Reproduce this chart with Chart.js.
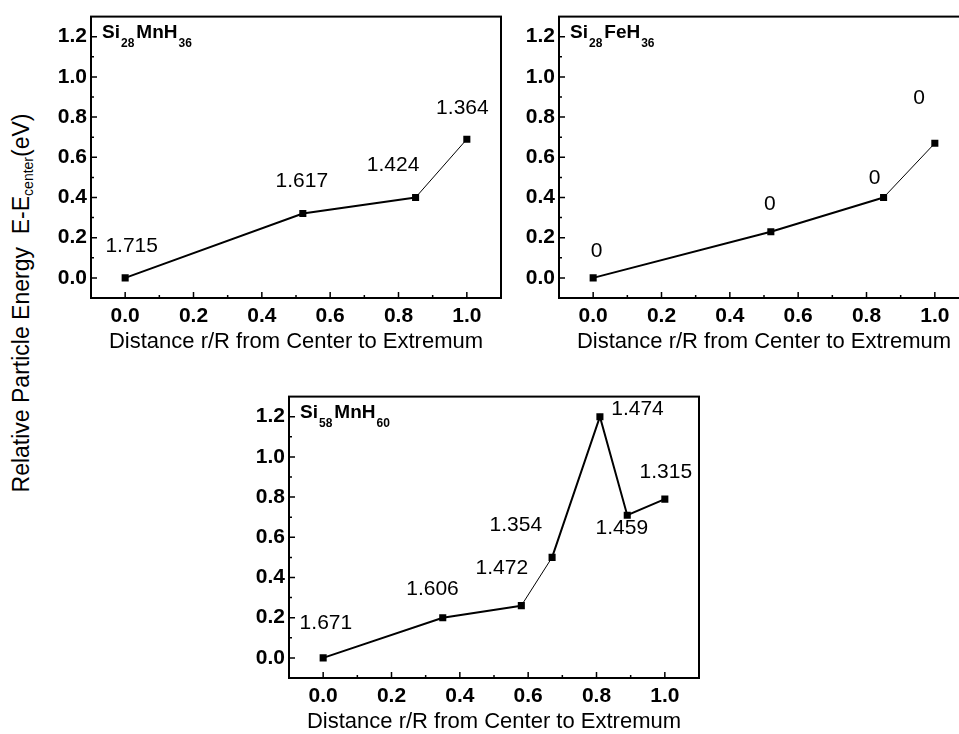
<!DOCTYPE html>
<html>
<head>
<meta charset="utf-8">
<script src="https://cdn.jsdelivr.net/npm/chart.js@4"></script>
<style>
  html, body { margin: 0; padding: 0; background: #fff; }
  body { width: 959px; height: 734px; position: relative; overflow: hidden; }
  canvas { position: absolute; }
  #ytitle {
    position: absolute; left: 22px; top: 303px;
    transform: translate(-50%, -50%) rotate(-90deg);
    white-space: nowrap; font: 23px "Liberation Sans", Arial, sans-serif; color: #000;
  }
  #ytitle sub { font-size: 14px; vertical-align: -4px; }
</style>
</head>
<body>
<div id="ytitle">Relative Particle Energy&nbsp;&nbsp;E-E<sub>center</sub>(eV)</div>
<canvas id="c1" width="470" height="355" style="left:40px;top:0px"></canvas>
<canvas id="c2" width="470" height="355" style="left:508px;top:0px"></canvas>
<canvas id="c3" width="470" height="355" style="left:238px;top:380px"></canvas>
<script>
// tick values shared by all three panels
var xTicks = [0, 0.2, 0.4, 0.6, 0.8, 1.0];
var yTicks = [0, 0.2, 0.4, 0.6, 0.8, 1.0, 1.2];

// Si28MnH36
var mn28X = [0, 0.52, 0.85, 1.0];
var mn28Y = [0, 0.32, 0.40, 0.69];
var mn28Labels = ["1.715", "1.617", "1.424", "1.364"];
var mn28LabelX = [0.019, 0.517, 0.784, 0.987];
var mn28LabelY = [0.158, 0.483, 0.561, 0.842];

// Si28FeH36
var fe28X = [0, 0.52, 0.85, 1.0];
var fe28Y = [0, 0.23, 0.40, 0.67];
var fe28Labels = ["0", "0", "0", "0"];
var fe28LabelX = [0.010, 0.517, 0.824, 0.954];
var fe28LabelY = [0.134, 0.368, 0.494, 0.896];

// Si58MnH60
var mn58X = [0, 0.35, 0.58, 0.67, 0.81, 0.89, 1.0];
var mn58Y = [0, 0.20, 0.26, 0.50, 1.20, 0.71, 0.79];
var mn58Labels = ["1.671", "1.606", "1.472", "1.354", "1.474", "1.459", "1.315"];
var mn58LabelX = [0.008, 0.320, 0.523, 0.564, 0.920, 0.874, 1.003];
var mn58LabelY = [0.174, 0.344, 0.444, 0.659, 1.235, 0.643, 0.922];

var FONT = '"Liberation Sans", Arial, sans-serif';

function midpoints(arr) {
  var out = [];
  for (var i = 0; i < arr.length - 1; i++) out.push((arr[i] + arr[i + 1]) / 2);
  return out;
}

// frame, inward ticks, formula and point labels
var decor = {
  id: "decor",
  afterDatasetsDraw: function (chart, args, opts) {
    var ctx = chart.ctx, a = chart.chartArea;
    var xs = chart.scales.x, ys = chart.scales.y;
    ctx.save();
    ctx.strokeStyle = "#000";
    ctx.lineWidth = 1.5;
    ctx.beginPath();
    yTicks.forEach(function (v) {
      var p = ys.getPixelForValue(v);
      ctx.moveTo(a.left, p); ctx.lineTo(a.left + 6, p);
    });
    midpoints(yTicks).forEach(function (v) {
      var p = ys.getPixelForValue(v);
      ctx.moveTo(a.left, p); ctx.lineTo(a.left + 3, p);
    });
    xTicks.forEach(function (v) {
      var p = xs.getPixelForValue(v);
      ctx.moveTo(p, a.bottom); ctx.lineTo(p, a.bottom - 6);
    });
    midpoints(xTicks).forEach(function (v) {
      var p = xs.getPixelForValue(v);
      ctx.moveTo(p, a.bottom); ctx.lineTo(p, a.bottom - 3);
    });
    ctx.stroke();
    ctx.lineWidth = 2;
    ctx.strokeRect(a.left, a.top, a.right - a.left, a.bottom - a.top);

    // formula with subscripts
    var x = a.left + 11;
    ctx.fillStyle = "#000";
    ctx.textBaseline = "alphabetic";
    opts.formula.forEach(function (part, i) {
      var sub = i % 2 === 1;
      ctx.font = "bold " + (sub ? 12 : 19) + "px " + FONT;
      ctx.fillText(part, x, a.top + (sub ? 30 : 21));
      x += ctx.measureText(part).width + (sub ? 2 : 1);
    });

    // value labels
    ctx.font = "21px " + FONT;
    ctx.textAlign = "center";
    ctx.textBaseline = "middle";
    opts.labels.forEach(function (t, i) {
      ctx.fillText(t, xs.getPixelForValue(opts.labelX[i]), ys.getPixelForValue(opts.labelY[i]));
    });
    ctx.restore();
  }
};

function makeChart(id, xs, ys, formula, labels, labelX, labelY) {
  var pts = xs.map(function (x, i) { return { x: x, y: ys[i] }; });
  return new Chart(document.getElementById(id).getContext("2d"), {
    type: "line",
    data: {
      datasets: [{
        data: pts,
        borderColor: "#000",
        backgroundColor: "#000",
        borderWidth: 2,
        pointStyle: "rect",
        pointRadius: 5,
        pointBorderWidth: 0,
        segment: {
          borderWidth: function (c) { return c.p1DataIndex === 3 ? 1 : 2; }
        }
      }]
    },
    options: {
      responsive: false,
      animation: false,
      layout: { padding: { top: 9, right: 9, left: 0, bottom: 0 } },
      plugins: {
        legend: { display: false },
        tooltip: { enabled: false },
        decor: { formula: formula, labels: labels, labelX: labelX, labelY: labelY }
      },
      scales: {
        x: {
          type: "linear",
          min: -0.1, max: 1.1,
          afterBuildTicks: function (s) { s.ticks = xTicks.map(function (v) { return { value: v }; }); },
          afterFit: function (s) { s.height = 57; },
          grid: { display: false, drawTicks: false },
          border: { display: false },
          ticks: {
            padding: 6,
            color: "#000",
            font: { family: FONT, size: 21, weight: "bold" },
            callback: function (v) { return Number(v).toFixed(1); }
          },
          title: {
            display: true,
            text: "Distance r/R from Center to Extremum",
            color: "#000",
            font: { family: FONT, size: 22 },
            padding: { top: 0, bottom: 0 }
          }
        },
        y: {
          type: "linear",
          min: -0.1, max: 1.3,
          afterBuildTicks: function (s) { s.ticks = yTicks.map(function (v) { return { value: v }; }); },
          afterFit: function (s) { s.width = 51; },
          grid: { display: false, drawTicks: false },
          border: { display: false },
          ticks: {
            padding: 4,
            color: "#000",
            font: { family: FONT, size: 21, weight: "bold" },
            callback: function (v) { return Number(v).toFixed(1); }
          }
        }
      }
    },
    plugins: [decor]
  });
}

makeChart("c1", mn28X, mn28Y, ["Si", "28", "MnH", "36"], mn28Labels, mn28LabelX, mn28LabelY);
makeChart("c2", fe28X, fe28Y, ["Si", "28", "FeH", "36"], fe28Labels, fe28LabelX, fe28LabelY);
makeChart("c3", mn58X, mn58Y, ["Si", "58", "MnH", "60"], mn58Labels, mn58LabelX, mn58LabelY);
</script>
</body>
</html>
